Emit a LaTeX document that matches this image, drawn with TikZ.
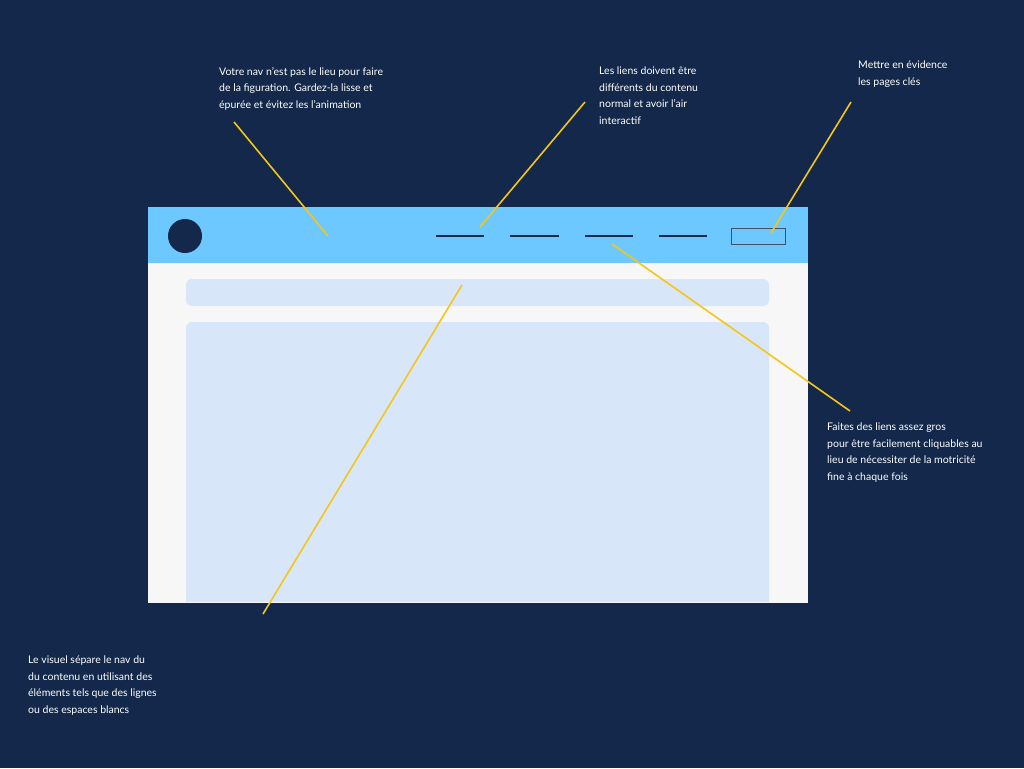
\documentclass[tikz,border=0pt]{standalone}
\usepackage{fontspec}
\setmainfont{Lato}
\definecolor{bg}{RGB}{19,40,74}
\definecolor{nav}{RGB}{109,200,255}
\definecolor{content}{RGB}{247,247,247}
\definecolor{bar}{RGB}{216,230,250}
\definecolor{yel}{RGB}{245,197,24}
\definecolor{btn}{RGB}{70,80,100}
\begin{document}
\begin{tikzpicture}[x=1pt,y=-1pt,
  note/.style={text=white,font=\fontsize{10.5}{16.5}\selectfont,align=left,anchor=north west,inner sep=0pt},
  callout/.style={draw=yel,line width=1.6pt},
  linkbar/.style={draw=bg,line width=2pt}]
\fill[bg] (0,0) rectangle (1024,768);
\useasboundingbox (0,0) rectangle (1024,768);
\fill[content] (148,263) rectangle (808,602);
\fill[nav] (148,207) rectangle (808,263);
\fill[bar,rounded corners=6pt] (186,279) rectangle (769,306);
\fill[bar,rounded corners=6pt] (186,322) rectangle (769,620);
\fill[content] (148,602) rectangle (808,603);
\fill[bg] (0,603) rectangle (1024,640);
\node[circle,fill=bg,minimum size=34pt,inner sep=0pt] (logo) at (185,236) {};
\draw[linkbar] (436,236) -- (484,236);
\draw[linkbar] (510,236) -- (559,236);
\draw[linkbar] (585,236) -- (633,236);
\draw[linkbar] (659,236) -- (707,236);
\draw[btn,line width=1pt] (731,228) rectangle (785,244);
\node[note] (n1) at (219,67) {Votre nav n'est pas le lieu pour faire\\de la figuration. Gardez-la lisse et\\épurée et évitez les l'animation};
\node[note] (n2) at (599,67) {Les liens doivent être\\différents du contenu\\normal et avoir l'air\\interactif};
\node[note] (n3) at (858,61) {Mettre en évidence\\les pages clés};
\node[note] (n4) at (827,423) {Faites des liens assez gros\\pour être facilement cliquables au\\lieu de nécessiter de la motricité\\fine à chaque fois};
\node[note] (n5) at (28,656) {Le visuel sépare le nav du\\du contenu en utilisant des\\éléments tels que des lignes\\ou des espaces blancs};
\coordinate (a1) at (234,122); \coordinate (b1) at (328,236);
\coordinate (a2) at (585,102); \coordinate (b2) at (480,227);
\coordinate (a3) at (851,102); \coordinate (b3) at (771,233);
\coordinate (a4) at (850,411); \coordinate (b4) at (612,244);
\coordinate (a5) at (263,614); \coordinate (b5) at (462,285);
\draw[callout] (a1)--(b1);
\draw[callout] (a2)--(b2);
\draw[callout] (a3)--(b3);
\draw[callout] (a4)--(b4);
\draw[callout] (a5)--(b5);
\end{tikzpicture}
\end{document}
